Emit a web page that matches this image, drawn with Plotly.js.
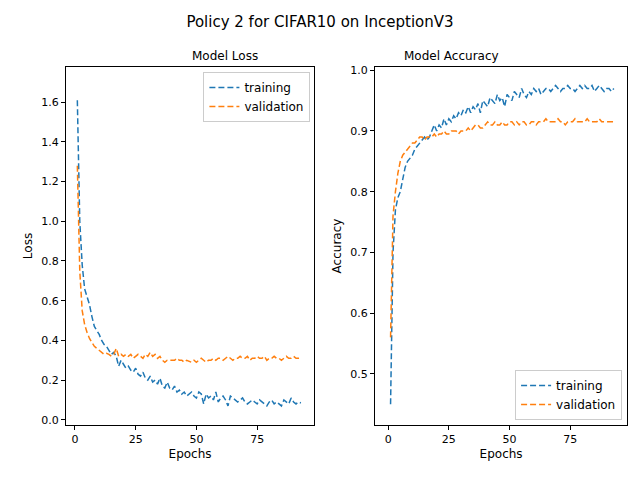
<!DOCTYPE html>
<html>
<head>
<script src="https://cdn.plot.ly/plotly-3.0.1.min.js"></script>
<style>body{margin:0}</style>
</head>
<body>
<div id="chart" style="width:640px;height:480px"></div>
<script>
let lossTrain = [1.61, 1.0, 0.78, 0.66, 0.62, 0.58, 0.52, 0.47, 0.45, 0.43, 0.40, 0.38, 0.37, 0.35, 0.33, 0.34, 0.32, 0.27, 0.30, 0.28, 0.26, 0.27, 0.25, 0.24, 0.26, 0.23, 0.22, 0.24, 0.21, 0.20, 0.22, 0.19, 0.20, 0.18, 0.21, 0.17, 0.16, 0.19, 0.16, 0.15, 0.17, 0.14, 0.15, 0.13, 0.14, 0.12, 0.13, 0.14, 0.12, 0.11, 0.14, 0.13, 0.08, 0.13, 0.11, 0.12, 0.10, 0.14, 0.09, 0.11, 0.12, 0.10, 0.07, 0.12, 0.11, 0.10, 0.09, 0.10, 0.11, 0.09, 0.08, 0.09, 0.10, 0.09, 0.08, 0.10, 0.09, 0.08, 0.07, 0.09, 0.10, 0.08, 0.09, 0.08, 0.07, 0.10, 0.09, 0.08, 0.11, 0.09, 0.08, 0.09, 0.085]
let lossVal = [1.28, 0.75, 0.55, 0.48, 0.44, 0.41, 0.39, 0.37, 0.36, 0.35, 0.34, 0.33, 0.335, 0.33, 0.32, 0.33, 0.36, 0.32, 0.33, 0.32, 0.33, 0.32, 0.33, 0.31, 0.32, 0.33, 0.32, 0.31, 0.33, 0.32, 0.34, 0.32, 0.33, 0.31, 0.32, 0.30, 0.29, 0.30, 0.30, 0.30, 0.30, 0.31, 0.30, 0.30, 0.29, 0.30, 0.295, 0.29, 0.30, 0.29, 0.30, 0.31, 0.30, 0.29, 0.30, 0.30, 0.31, 0.30, 0.31, 0.31, 0.30, 0.31, 0.32, 0.31, 0.30, 0.31, 0.31, 0.32, 0.31, 0.31, 0.32, 0.30, 0.31, 0.31, 0.32, 0.31, 0.31, 0.32, 0.30, 0.31, 0.31, 0.32, 0.31, 0.31, 0.30, 0.31, 0.32, 0.31, 0.31, 0.32, 0.31, 0.31, 0.31]
let accTrain = [0.45, 0.70, 0.77, 0.79, 0.80, 0.82, 0.84, 0.85, 0.855, 0.86, 0.87, 0.875, 0.88, 0.885, 0.89, 0.885, 0.89, 0.90, 0.91, 0.90, 0.91, 0.905, 0.92, 0.91, 0.92, 0.915, 0.925, 0.92, 0.93, 0.925, 0.935, 0.93, 0.94, 0.93, 0.94, 0.935, 0.945, 0.93, 0.95, 0.945, 0.94, 0.955, 0.95, 0.945, 0.96, 0.95, 0.955, 0.94, 0.96, 0.955, 0.95, 0.965, 0.96, 0.955, 0.97, 0.96, 0.955, 0.965, 0.96, 0.97, 0.965, 0.97, 0.96, 0.965, 0.97, 0.97, 0.965, 0.97, 0.975, 0.97, 0.965, 0.97, 0.97, 0.975, 0.97, 0.97, 0.965, 0.97, 0.975, 0.97, 0.975, 0.97, 0.97, 0.975, 0.965, 0.97, 0.975, 0.97, 0.965, 0.97, 0.97, 0.965, 0.97]
let accVal = [0.56, 0.76, 0.80, 0.83, 0.85, 0.86, 0.865, 0.87, 0.875, 0.88, 0.88, 0.885, 0.89, 0.89, 0.885, 0.89, 0.89, 0.89, 0.895, 0.89, 0.895, 0.895, 0.90, 0.895, 0.895, 0.90, 0.90, 0.90, 0.895, 0.90, 0.90, 0.90, 0.905, 0.90, 0.905, 0.91, 0.91, 0.905, 0.905, 0.91, 0.915, 0.91, 0.91, 0.915, 0.91, 0.91, 0.915, 0.91, 0.91, 0.915, 0.915, 0.91, 0.915, 0.91, 0.915, 0.915, 0.91, 0.91, 0.915, 0.915, 0.91, 0.915, 0.915, 0.915, 0.92, 0.915, 0.915, 0.915, 0.915, 0.92, 0.915, 0.915, 0.91, 0.915, 0.915, 0.915, 0.92, 0.915, 0.915, 0.915, 0.915, 0.92, 0.915, 0.915, 0.915, 0.915, 0.92, 0.915, 0.915, 0.915, 0.915, 0.915, 0.915]

const blue = '#1f77b4'
const orange = '#ff7f0e'
let epochs = arr => arr.map((v, i) => i + 1)

function trace(y, name, color, xa, ya, legend) {
    return { x: epochs(y), y: y, mode: 'lines', name: name, xaxis: xa, yaxis: ya, legend: legend,
        line: { color: color, dash: '6px,3px', width: 1.5 } }
}

let data = [
    trace(lossTrain, 'training', blue, 'x', 'y', 'legend'),
    trace(lossVal, 'validation', orange, 'x', 'y', 'legend'),
    trace(accTrain, 'training', blue, 'x2', 'y2', 'legend2'),
    trace(accVal, 'validation', orange, 'x2', 'y2', 'legend2'),
]

let axis = {
    showgrid: false, zeroline: false, showline: true, mirror: true, linecolor: 'black', linewidth: 1,
    ticks: 'outside', ticklen: 4, tickcolor: 'black', tickfont: { size: 11 }
}
let legendStyle = { bgcolor: 'white', bordercolor: '#ccc', borderwidth: 1, font: { size: 12 } }

let layout = {
    width: 640, height: 480,
    margin: { l: 0, r: 0, t: 0, b: 0 },
    font: { family: 'DejaVu Sans', color: 'black' },
    paper_bgcolor: 'white', plot_bgcolor: 'white',
    title: { text: 'Policy 2 for CIFAR10 on InceptionV3', font: { size: 15 }, x: 0.5, y: 0.965, xanchor: 'center' },
    xaxis: Object.assign({}, axis, { domain: [0.103, 0.491], range: [-3.7, 98.5], tickvals: [0, 25, 50, 75],
        title: { text: 'Epochs', font: { size: 12 }, standoff: 4 } }),
    yaxis: Object.assign({}, axis, { domain: [0.115, 0.86], range: [-0.025, 1.776], dtick: 0.2, tickformat: '.1f',
        title: { text: 'Loss', font: { size: 12 }, standoff: 6 } }),
    xaxis2: Object.assign({}, axis, { anchor: 'y2', domain: [0.586, 0.98], range: [-5.4, 98.5], tickvals: [0, 25, 50, 75],
        title: { text: 'Epochs', font: { size: 12 }, standoff: 4 } }),
    yaxis2: Object.assign({}, axis, { anchor: 'x2', domain: [0.115, 0.86], range: [0.416, 1.005], dtick: 0.1, tickformat: '.1f',
        title: { text: 'Accuracy', font: { size: 12 }, standoff: 6 } }),
    legend: Object.assign({}, legendStyle, { x: 0.485, y: 0.85, xanchor: 'right', yanchor: 'top' }),
    legend2: Object.assign({}, legendStyle, { x: 0.972, y: 0.125, xanchor: 'right', yanchor: 'bottom' }),
    annotations: [
        { text: 'Model Loss', xref: 'paper', yref: 'paper', x: 0.297, y: 0.865, showarrow: false, yanchor: 'bottom', font: { size: 12 } },
        { text: 'Model Accuracy', xref: 'paper', yref: 'paper', x: 0.783, y: 0.865, showarrow: false, yanchor: 'bottom', font: { size: 12 } },
    ]
}

Plotly.newPlot('chart', data, layout, { displayModeBar: false })
</script>
</body>
</html>
